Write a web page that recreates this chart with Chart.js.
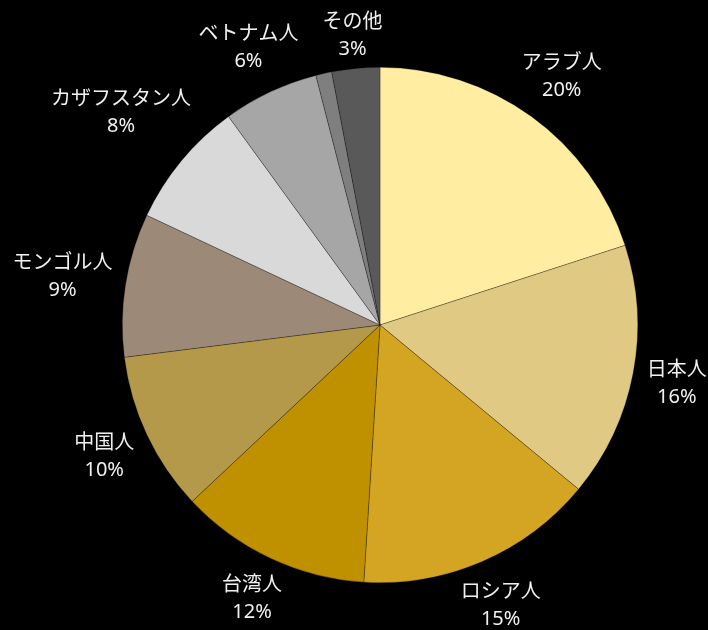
<!DOCTYPE html>
<html>
<head>
<meta charset="utf-8">
<script src="https://cdn.jsdelivr.net/npm/chart.js@4.4.1/dist/chart.umd.min.js"></script>
<style>
  html, body { margin: 0; padding: 0; background: #000; }
  #wrap { width: 708px; height: 630px; }
</style>
</head>
<body>
<div id="wrap"><canvas id="c" width="708" height="630"></canvas></div>
<script>
const categories = ['アラブ人', '日本人', 'ロシア人', '台湾人', '中国人', 'モンゴル人', 'カザフスタン人', 'ベトナム人', '', 'その他'];
const shares = [20, 16, 15, 12, 10, 9, 8, 6, 1, 3];
const sliceColors = ['#FFEDA1', '#E0C983', '#D4A522', '#BF9000', '#B5994B', '#9D8977', '#D9D9D9', '#A6A6A6', '#7F7F7F', '#595959'];

const FONT = '20px "Noto Sans", "Noto Sans CJK JP", sans-serif';

const outLabels = {
  id: 'outLabels',
  afterDatasetsDraw(chart) {
    const ctx = chart.ctx;
    const meta = chart.getDatasetMeta(0);
    ctx.save();
    ctx.font = FONT;
    ctx.fillStyle = '#F0F0F0';
    ctx.textAlign = 'center';
    ctx.textBaseline = 'middle';
    meta.data.forEach((arc, i) => {
      const name = categories[i];
      if (!name) return;
      const pct = shares[i] + '%';
      const p = arc.getProps(['x', 'y', 'startAngle', 'endAngle', 'outerRadius'], true);
      const a = (p.startAngle + p.endAngle) / 2;
      const vx = Math.cos(a), vy = Math.sin(a);
      const w = Math.max(ctx.measureText(name).width, ctx.measureText(pct).width);
      const halfH = 21;
      const gap = 11;
      const d = p.outerRadius + gap + Math.abs(vx) * w / 2 + Math.abs(vy) * halfH;
      const cx = p.x + vx * d, cy = p.y + vy * d + 2;
      ctx.fillText(name, cx, cy - 13.5);
      ctx.fillText(pct, cx, cy + 13.5);
    });
    ctx.restore();
  }
};

new Chart(document.getElementById('c'), {
  type: 'pie',
  data: {
    labels: categories,
    datasets: [{
      data: shares,
      backgroundColor: sliceColors,
      borderColor: 'rgba(0,0,0,0.45)',
      borderWidth: 0.6
    }]
  },
  options: {
    responsive: false,
    animation: false,
    layout: { padding: { left: 122, right: 70, top: 67, bottom: 47 } },
    plugins: {
      legend: { display: false },
      tooltip: { enabled: false }
    }
  },
  plugins: [outLabels]
});
</script>
</body>
</html>
